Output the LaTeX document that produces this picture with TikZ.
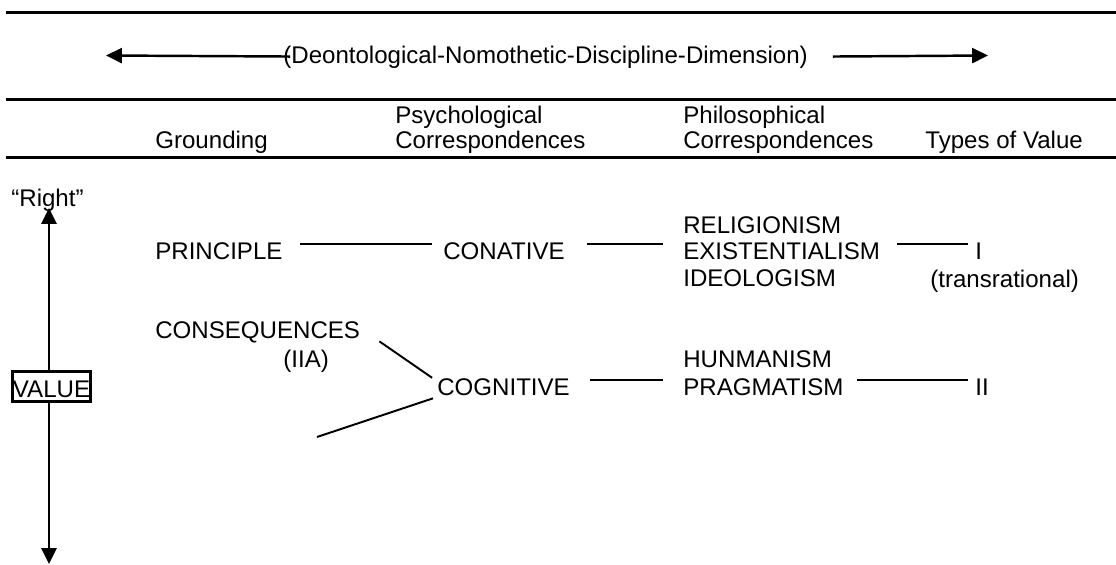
\documentclass[tikz,border=0pt]{standalone}
\usepackage{fontspec}
\setmainfont{Liberation Sans}
\usetikzlibrary{arrows.meta}
\tikzset{
    every node/.style={font=\fontsize{13.7}{15}\selectfont},
    word/.style={anchor=base west, inner sep=0pt, text height=8.5pt, text depth=0pt},
    link/.style={-, line width=1.1pt},
    valarrow/.style={-{Triangle[length=9pt, width=8.5pt]}, line width=1.4pt},
    valuebox/.style={draw, line width=1.5pt, anchor=base, inner xsep=0.4pt, inner ysep=2.7pt, text height=11.9pt, text depth=0pt}
}

\begin{document}
\begin{tikzpicture}
    \useasboundingbox (0,0) rectangle (22.32,11.28);

    \draw [line width=1.8pt] (0.12,11.03) -- (22.32,11.03);
    \draw [line width=1.7pt] (0.12,9.29) -- (22.32,9.29);
    \draw [line width=1.4pt] (0.12,8.13) -- (22.32,8.13);

    \node[word] (dim) at (5.66,10.00) {(Deontological-Nomothetic-Discipline-Dimension)};
    \coordinate (lefttip) at (2.12,10.17);
    \coordinate (righttip) at (19.76,10.17);
    \path [valarrow]([xshift=4pt]dim.west) edge (lefttip);
    \path [valarrow]([xshift=14pt]dim.east) edge (righttip);

    \node[word] (grounding) at (3.10,8.30) {Grounding};
    \node[word] (psych1) at (7.90,8.80) {Psychological};
    \node[word] (psych2) at (7.90,8.30) {Correspondences};
    \node[word] (philo1) at (13.66,8.80) {Philosophical};
    \node[word] (philo2) at (13.66,8.30) {Correspondences};
    \node[word] (types) at (18.50,8.30) {Types of Value};

    \node[word] (right) at (0.22,7.16) {“Right”};
    \node[valuebox] (value) at (1.03,3.34) {VALUE};
    \coordinate (uptip) at (0.98,7.12);
    \coordinate (downtip) at (0.98,0.00);
    \path [valarrow](value.north -| uptip) edge (uptip);
    \path [valarrow](value.south -| downtip) edge (downtip);

    \node[word] (principle) at (3.10,6.10) {PRINCIPLE};
    \node[word] (conative) at (8.86,6.10) {CONATIVE};
    \node[word] (religionism) at (13.66,6.62) {RELIGIONISM};
    \node[word] (existentialism) at (13.66,6.10) {EXISTENTIALISM};
    \node[word] (ideologism) at (13.66,5.56) {IDEOLOGISM};
    \node[word] (typeI) at (19.50,6.10) {I};
    \node[word] (transrational) at (18.60,5.54) {(transrational)};

    \node[word] (consequences) at (3.10,4.52) {CONSEQUENCES};
    \node[word] (iia) at (5.66,3.94) {(IIA)};
    \node[word] (cognitive) at (8.74,3.38) {COGNITIVE};
    \node[word] (hunmanism) at (13.66,3.94) {HUNMANISM};
    \node[word] (pragmatism) at (13.66,3.38) {PRAGMATISM};
    \node[word] (typeII) at (19.50,3.38) {II};
    \coordinate (lowend) at (6.34,2.54);

    \path [link, shorten <=9.6pt, shorten >=6pt](principle.north east) edge (conative.north west);
    \path [link, shorten <=12.5pt, shorten >=11.3pt](conative.north east) edge (existentialism.north west);
    \path [link, shorten <=9.6pt, shorten >=4pt](existentialism.north east) edge (typeI.north west);
    \path [link]([shift={(10.8pt,-1.7pt)}]consequences.south east) edge ([shift={(-2.8pt,1.1pt)}]cognitive.north west);
    \path [link](lowend) edge ([shift={(-2.3pt,-1.7pt)}]cognitive.south west);
    \path [link, shorten <=11.3pt, shorten >=11.3pt](cognitive.north east) edge (pragmatism.north west);
    \path [link, shorten <=7.4pt, shorten >=4pt](pragmatism.north east) edge (typeII.north west);
\end{tikzpicture}
\end{document}
